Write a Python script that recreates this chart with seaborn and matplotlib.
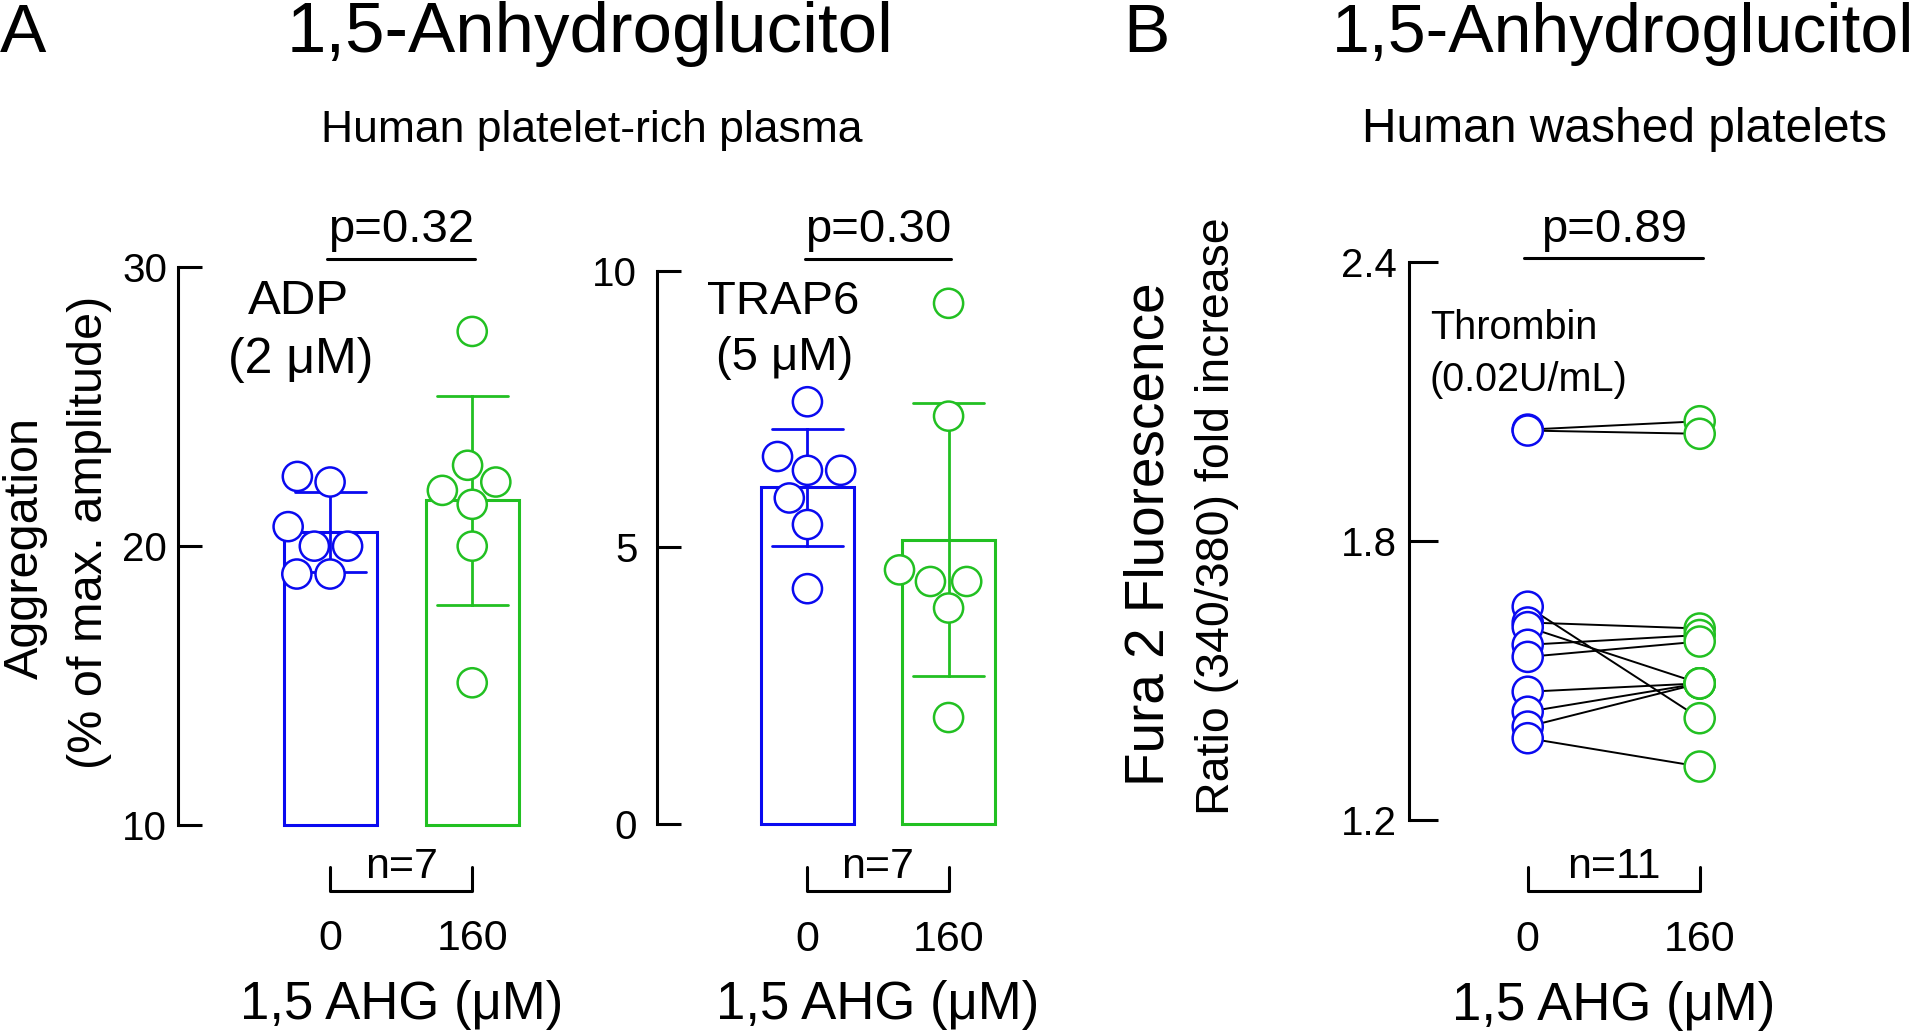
import pandas as pd
import matplotlib
matplotlib.use("Agg")
import matplotlib.pyplot as plt
import matplotlib.transforms as mtransforms
import seaborn as sns

# ---- data ----
doses = ["0", "160"]

# A: platelet-rich plasma, aggregation (% of max. amplitude)
adp_0 = [22.3, 22.5, 20.7, 20.0, 20.0, 19.0, 19.0]
adp_160 = [27.7, 22.9, 22.3, 22.0, 21.5, 20.0, 15.1]
trap_0 = [7.63, 6.64, 6.39, 6.39, 5.89, 5.41, 4.25]
trap_160 = [9.41, 7.37, 4.59, 4.38, 4.38, 3.90, 1.92]

# B: washed platelets, Fura 2 ratio (paired, same order)
thr_0 = [2.040, 2.038, 1.659, 1.625, 1.615, 1.577, 1.551, 1.476, 1.433, 1.401, 1.376]
thr_160 = [2.058, 2.031, 1.419, 1.612, 1.494, 1.598, 1.584, 1.494, 1.494, 1.494, 1.315]

adp_yticks = [10, 20, 30]
trap_yticks = [0, 5, 10]
thr_yticks = [1.2, 1.8, 2.4]
thr_yticklabels = ["1.2", "1.8", "2.4"]

p_adp, p_trap, p_thr = "p=0.32", "p=0.30", "p=0.89"
n_adp, n_trap, n_thr = "n=7", "n=7", "n=11"

BLUE = "#0A0AF0"
GREEN = "#22C022"

sns.set_theme(style="ticks")
plt.rcParams["font.family"] = ["Liberation Sans", "DejaVu Sans"]
for k in ["text.color", "axes.labelcolor", "xtick.color", "ytick.color", "axes.edgecolor"]:
    plt.rcParams[k] = "black"

W, H = 1920, 1033
fig = plt.figure(figsize=(W / 100, H / 100), dpi=100)


def fy(py):
    return 1 - py / H


def rect(left, right, top, bottom):
    return [left / W, 1 - bottom / H, (right - left) / W, (bottom - top) / H]


def style_axis(ax, tick_len, ypad, xpad):
    sns.despine(ax=ax, bottom=True)
    ax.spines["left"].set_linewidth(2.2)
    ax.tick_params(axis="y", direction="in", length=tick_len, width=2.2,
                   pad=ypad, labelsize=29)
    ax.tick_params(axis="x", length=0, pad=xpad, labelsize=31)
    ax.set_ylabel("")
    ax.set_xlabel("1,5 AHG (μM)", fontsize=38, labelpad=15)


def brackets(ax, p_text, n_text, p_y, p_text_y, n_top, n_bot, n_text_y):
    tr = mtransforms.blended_transform_factory(ax.transData, fig.transFigure)
    ax.plot([-0.02, 1.02], [fy(p_y)] * 2, color="black", lw=2.2,
            transform=tr, clip_on=False)
    ax.text(0.5, fy(p_text_y), p_text, transform=tr, ha="center",
            va="baseline", fontsize=34)
    ax.plot([0, 0, 1, 1], [fy(n_top), fy(n_bot), fy(n_bot), fy(n_top)],
            color="black", lw=2.2, transform=tr, clip_on=False)
    ax.text(0.5, fy(n_text_y), n_text, transform=tr, ha="center",
            va="baseline", fontsize=31)
    return tr


def bar_panel(ax, v0, v1, yticks):
    df = pd.DataFrame({"dose": [doses[0]] * len(v0) + [doses[1]] * len(v1),
                       "value": v0 + v1})
    sns.barplot(data=df, x="dose", y="value", hue="dose",
                palette=[BLUE, GREEN], fill=False, errorbar="sd",
                capsize=0.5, width=0.655, linewidth=2.2,
                err_kws={"linewidth": 2.0}, legend=False, ax=ax)
    base = yticks[0]
    for bar in ax.patches:
        top = bar.get_y() + bar.get_height()
        bar.set_y(base)
        bar.set_height(top - base)
        bar.set_clip_on(False)
    n = len(ax.collections)
    sns.swarmplot(data=df, x="dose", y="value", hue="dose",
                  palette=[BLUE, GREEN], size=21, legend=False, ax=ax)
    for coll in ax.collections[n:]:
        coll.set_edgecolors(coll.get_facecolors())
        coll.set_facecolors("white")
        coll.set_linewidth(1.8)
        coll.set_zorder(3)
    ax.set_ylim(yticks[0], yticks[-1])
    ax.set_yticks(yticks)
    ax.set_xlim(-1.068, 2.068)


# ---- A, ADP ----
ax1 = fig.add_axes(rect(178.3, 624, 267.3, 825))
bar_panel(ax1, adp_0, adp_160, adp_yticks)
style_axis(ax1, 17, 8, 68)
tr1 = brackets(ax1, p_adp, n_adp, 259, 242, 867, 891, 878)
ax1.text(-0.225, fy(313.6), "ADP", transform=tr1, ha="center",
         va="baseline", fontsize=35.5)
ax1.text(-0.21, fy(372.6), "(2 μM)", transform=tr1, ha="center",
         va="baseline", fontsize=36)

# ---- A, TRAP6 ----
ax2 = fig.add_axes(rect(656.7, 1099.3, 270.7, 823.7))
bar_panel(ax2, trap_0, trap_160, trap_yticks)
style_axis(ax2, 17, 14, 69)
tr2 = brackets(ax2, p_trap, n_trap, 259, 242, 867, 891, 878)
ax2.text(-0.175, fy(313.6), "TRAP6", transform=tr2, ha="center",
         va="baseline", fontsize=34)
ax2.text(-0.16, fy(370.5), "(5 μM)", transform=tr2, ha="center",
         va="baseline", fontsize=34)

# ---- B, thrombin, paired ----
ax3 = fig.add_axes(rect(1409.4, 1818, 262.3, 820))
npair = len(thr_0)
dfb = pd.DataFrame({"pair": list(range(npair)) * 2,
                    "dose": [doses[0]] * npair + [doses[1]] * npair,
                    "x": [0] * npair + [1] * npair,
                    "value": thr_0 + thr_160})
sns.lineplot(data=dfb, x="x", y="value", units="pair", estimator=None,
             color="black", linewidth=1.4, ax=ax3)
n = len(ax3.collections)
sns.scatterplot(data=dfb, x="x", y="value", hue="dose",
                palette=[BLUE, GREEN], s=470, legend=False, ax=ax3)
for coll in ax3.collections[n:]:
    coll.set_edgecolors(coll.get_facecolors())
    coll.set_facecolors("white")
    coll.set_linewidth(1.8)
    coll.set_zorder(3)
ax3.set_ylim(thr_yticks[0], thr_yticks[-1])
ax3.set_yticks(thr_yticks, labels=thr_yticklabels)
ax3.set_xticks([0, 1], labels=doses)
ax3.set_xlim(-0.688, 1.688)
style_axis(ax3, 21, 9, 72)
tr3 = brackets(ax3, p_thr, n_thr, 258, 242, 867, 891, 878)
fig.text(1430 / W, fy(339), "Thrombin", ha="left", va="baseline", fontsize=28.5)
fig.text(1430 / W, fy(391.5), "(0.02U/mL)", ha="left", va="baseline",
         fontsize=28.5)

# ---- y labels ----
ylab = dict(rotation=90, rotation_mode="anchor", ha="center", va="baseline")
fig.text(38 / W, fy(548), "Aggregation", fontsize=35, **ylab)
fig.text(102 / W, fy(532), "(% of max. amplitude)", fontsize=35, **ylab)
fig.text(1164 / W, fy(534), "Fura 2 Fluorescence", fontsize=39.5, **ylab)
fig.text(1229 / W, fy(516), "Ratio (340/380) fold increase", fontsize=33.5,
         **ylab)

# ---- titles ----
fig.text(0, fy(52), "A", fontsize=50, ha="left", va="baseline")
fig.text(590 / W, fy(52), "1,5-Anhydroglucitol", fontsize=51, ha="center",
         va="baseline")
fig.text(592 / W, fy(142), "Human platelet-rich plasma", fontsize=32,
         ha="center", va="baseline")
fig.text(1123 / W, fy(52), "B", fontsize=50, ha="left", va="baseline")
fig.text(1914 / W, fy(52), "1,5-Anhydroglucitol", fontsize=49, ha="right",
         va="baseline")
fig.text(1624 / W, fy(142), "Human washed platelets", fontsize=34.5,
         ha="center", va="baseline")

fig.savefig("out.png", dpi=100)
plt.close(fig)
